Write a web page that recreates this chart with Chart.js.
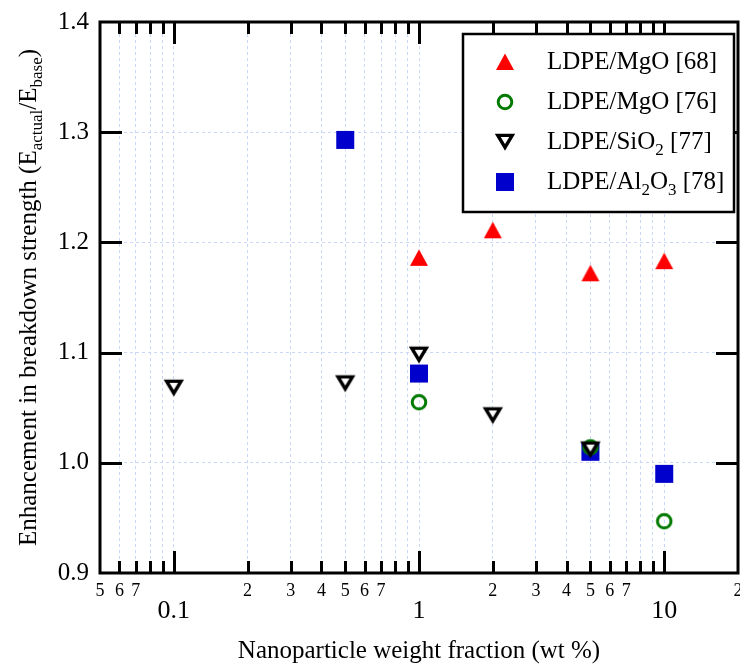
<!DOCTYPE html>
<html>
<head>
<meta charset="utf-8">
<script src="https://cdn.jsdelivr.net/npm/chart.js@4.4.0/dist/chart.umd.min.js"></script>
<style>
  html, body { margin: 0; background: #fff; overflow: hidden; }
  #wrap { width: 740px; height: 664px; }
</style>
</head>
<body>
<div id="wrap"><canvas id="myChart"></canvas></div>
<script>
// wt % and breakdown strength ratio for each reference
const mgo68X = [1, 2, 5, 10]
const mgo68Y = [1.186, 1.211, 1.172, 1.183]
const mgo76X = [1, 5, 10]
const mgo76Y = [1.055, 1.014, 0.947]
const sio2X = [0.1, 0.5, 1, 2, 5]
const sio2Y = [1.068, 1.072, 1.098, 1.043, 1.012]
const al2o3X = [0.5, 1, 5, 10]
const al2o3Y = [1.293, 1.081, 1.010, 0.990]

const xGridTicks = [0.05, 0.06, 0.07, 0.08, 0.09,
                    0.1, 0.2, 0.3, 0.4, 0.5, 0.6, 0.7, 0.8, 0.9,
                    1, 2, 3, 4, 5, 6, 7, 8, 9,
                    10, 20]
const xMajorTicks = [0.1, 1, 10]
const xMajorLabels = ['0.1', '1', '10']
const xMinorTicks = [0.05, 0.06, 0.07, 0.2, 0.3, 0.4, 0.5, 0.6, 0.7, 2, 3, 4, 5, 6, 7, 20]
const xMinorLabels = ['5', '6', '7', '2', '3', '4', '5', '6', '7', '2', '3', '4', '5', '6', '7', '2']
const yTicks = [0.9, 1.0, 1.1, 1.2, 1.3, 1.4]
const yTickLabels = ['0.9', '1.0', '1.1', '1.2', '1.3', '1.4']

const serif = '"Liberation Serif", "Times New Roman", serif'
const gridColor = '#c9d8f8'

function pts(xs, ys) {
    return xs.map((x, i) => ({ x: x, y: ys[i] }))
}

// small canvases used as point styles (and again in the legend)
function marker(size, draw) {
    const c = document.createElement('canvas')
    c.width = size
    c.height = size
    const g = c.getContext('2d')
    g.translate(size / 2, size / 2)
    draw(g)
    return c
}

const redTriangle = marker(20, g => {
    g.beginPath()
    g.moveTo(0, -8.5)
    g.lineTo(9, 8)
    g.lineTo(-9, 8)
    g.closePath()
    g.fillStyle = '#ff0000'
    g.fill()
})

const greenCircle = marker(20, g => {
    g.beginPath()
    g.arc(0, 0, 6.8, 0, Math.PI * 2)
    g.lineWidth = 3
    g.strokeStyle = '#007a00'
    g.stroke()
})

const blackTriangle = marker(24, g => {
    g.beginPath()
    g.moveTo(-7.2, -6.6)
    g.lineTo(7.2, -6.6)
    g.lineTo(0, 5.4)
    g.closePath()
    g.fillStyle = '#fff'
    g.fill()
    g.lineWidth = 3.4
    g.lineJoin = 'miter'
    g.strokeStyle = '#000'
    g.stroke()
})

const blueSquare = marker(20, g => {
    g.fillStyle = '#0000cc'
    g.fillRect(-9, -9, 18, 18)
})

const legendItems = [
    { style: redTriangle, parts: [['LDPE/MgO [68]']] },
    { style: greenCircle, parts: [['LDPE/MgO [76]']] },
    { style: blackTriangle, parts: [['LDPE/SiO'], ['2', 1], [' [77]']] },
    { style: blueSquare, parts: [['LDPE/Al'], ['2', 1], ['O'], ['3', 1], [' [78]']] }
]

// text with subscripts, parts = [text, isSub]
function richWidth(ctx, parts, size, subSize) {
    let w = 0
    parts.forEach(p => {
        ctx.font = (p[1] ? subSize : size) + 'px ' + serif
        w += ctx.measureText(p[0]).width
    })
    return w
}

function drawRich(ctx, parts, x, y, size, subSize, subShift) {
    parts.forEach(p => {
        ctx.font = (p[1] ? subSize : size) + 'px ' + serif
        ctx.fillText(p[0], x, p[1] ? y + subShift : y)
        x += ctx.measureText(p[0]).width
    })
}

const framePlugin = {
    id: 'frame',
    afterDraw(chart) {
        const ctx = chart.ctx
        const area = chart.chartArea
        const xs = chart.scales.x
        const ys = chart.scales.y
        ctx.save()
        ctx.strokeStyle = '#000'
        ctx.fillStyle = '#000'

        // inward tick marks
        ctx.lineWidth = 3
        ctx.beginPath()
        xGridTicks.forEach(v => {
            if (v === 0.05 || v === 20) return
            const px = Math.round(xs.getPixelForValue(v)) + 0.5
            const len = xMajorTicks.includes(v) ? 22 : 12
            ctx.moveTo(px, area.bottom)
            ctx.lineTo(px, area.bottom - len)
            ctx.moveTo(px, area.top)
            ctx.lineTo(px, area.top + len)
        })
        yTicks.forEach(v => {
            if (v === 0.9 || v === 1.4) return
            const py = Math.round(ys.getPixelForValue(v)) + 0.5
            ctx.moveTo(area.left, py)
            ctx.lineTo(area.left + 22, py)
            ctx.moveTo(area.right, py)
            ctx.lineTo(area.right - 22, py)
        })
        ctx.stroke()

        // frame
        ctx.lineWidth = 3
        ctx.strokeRect(area.left, area.top, area.right - area.left, area.bottom - area.top)

        // tick labels
        ctx.textBaseline = 'middle'
        ctx.textAlign = 'right'
        ctx.font = '25px ' + serif
        yTicks.forEach((v, i) => {
            ctx.fillText(yTickLabels[i], area.left - 11, ys.getPixelForValue(v))
        })
        ctx.textAlign = 'center'
        ctx.font = '18px ' + serif
        xMinorTicks.forEach((v, i) => {
            ctx.fillText(xMinorLabels[i], xs.getPixelForValue(v), area.bottom + 18)
        })
        ctx.font = '26px ' + serif
        xMajorTicks.forEach((v, i) => {
            ctx.fillText(xMajorLabels[i], xs.getPixelForValue(v), area.bottom + 38)
        })

        // axis titles
        ctx.textBaseline = 'alphabetic'
        ctx.textAlign = 'center'
        ctx.font = '25px ' + serif
        ctx.fillText('Nanoparticle weight fraction (wt %)', (area.left + area.right) / 2, 658)

        const yTitle = [['Enhancement in breakdown strength (E'], ['actual', 1], ['/E'], ['base', 1], [')']]
        ctx.textAlign = 'left'
        const tw = richWidth(ctx, yTitle, 25, 17)
        ctx.translate(36, (area.top + area.bottom) / 2)
        ctx.rotate(-Math.PI / 2)
        drawRich(ctx, yTitle, -tw / 2, 0, 25, 17, 6)
        ctx.setTransform(1, 0, 0, 1, 0, 0)

        // legend box
        const bx = 463, by = 34, bw = 271, bh = 178
        ctx.fillStyle = '#fff'
        ctx.fillRect(bx, by, bw, bh)
        ctx.lineWidth = 2.5
        ctx.strokeStyle = '#000'
        ctx.strokeRect(bx, by, bw, bh)
        ctx.fillStyle = '#000'
        ctx.textBaseline = 'middle'
        legendItems.forEach((item, i) => {
            const cy = 62 + i * 40
            ctx.drawImage(item.style, 505 - item.style.width / 2, cy - item.style.height / 2)
            drawRich(ctx, item.parts, 547, cy, 25, 17, 9)
        })
        ctx.restore()
    }
}

const gridOpts = { color: gridColor, lineWidth: 1, drawTicks: false }
const borderOpts = { display: false, dash: [3, 3] }

new Chart(document.getElementById('myChart'), {
    type: 'scatter',
    data: {
        datasets: [
            { label: 'LDPE/MgO [68]', data: pts(mgo68X, mgo68Y), pointStyle: redTriangle, pointRadius: 9, order: 1 },
            { label: 'LDPE/MgO [76]', data: pts(mgo76X, mgo76Y), pointStyle: greenCircle, pointRadius: 9, order: 1 },
            { label: 'LDPE/SiO2 [77]', data: pts(sio2X, sio2Y), pointStyle: blackTriangle, pointRadius: 9, order: 0 },
            { label: 'LDPE/Al2O3 [78]', data: pts(al2o3X, al2o3Y), pointStyle: blueSquare, pointRadius: 9, order: 2 }
        ]
    },
    options: {
        responsive: true,
        maintainAspectRatio: false,
        animation: false,
        devicePixelRatio: 1,
        layout: { autoPadding: false, padding: { left: 100, right: 2, top: 22, bottom: 91 } },
        plugins: {
            legend: { display: false },
            tooltip: { enabled: false }
        },
        scales: {
            x: {
                type: 'logarithmic',
                min: 0.05,
                max: 20,
                afterBuildTicks: scale => { scale.ticks = xGridTicks.map(v => ({ value: v })) },
                ticks: { display: false },
                grid: gridOpts,
                border: borderOpts
            },
            y: {
                min: 0.9,
                max: 1.4,
                afterBuildTicks: scale => { scale.ticks = yTicks.map(v => ({ value: v })) },
                ticks: { display: false },
                grid: gridOpts,
                border: borderOpts
            }
        }
    },
    plugins: [framePlugin]
})
</script>
</body>
</html>
